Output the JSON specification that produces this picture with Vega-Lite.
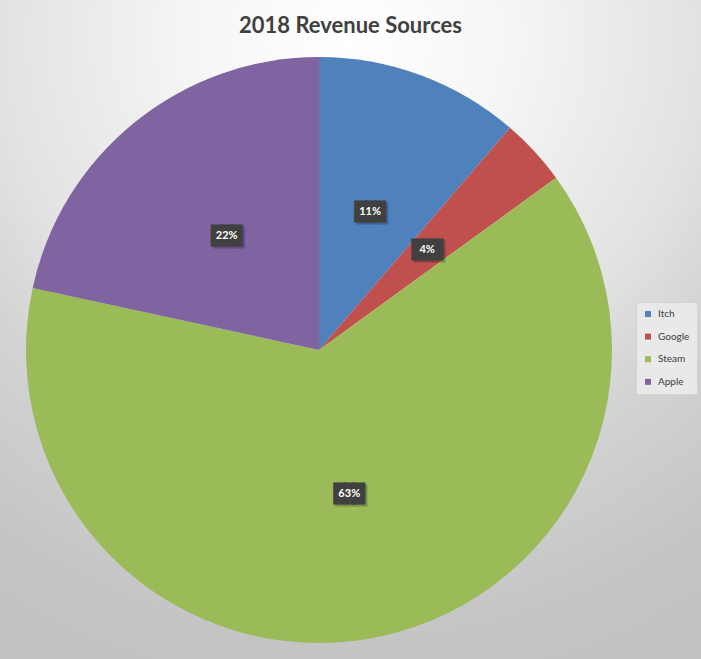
{
  "$schema": "https://vega.github.io/schema/vega-lite/v6.json",
  "width": 764,
  "height": 700,
  "autosize": {"type": "none"},
  "padding": {"left": -63, "top": 0, "right": 0, "bottom": -41},
  "background": "#d6d6d6",
  "title": {
    "text": "2018 Revenue Sources",
    "font": "Lato",
    "fontSize": 22,
    "fontWeight": "bold",
    "color": "#404040",
    "anchor": "middle",
    "frame": "group",
    "offset": -38,
    "dx": 31.5
  },
  "config": {
    "view": {"stroke": null},
    "legend": {
      "orient": "none",
      "legendX": 699,
      "legendY": 302,
      "fillColor": "#e9e9e9",
      "strokeColor": "#d2d2d2",
      "padding": 7,
      "symbolType": "square",
      "symbolSize": 36,
      "symbolStrokeWidth": 0,
      "labelFont": "Lato",
      "labelFontSize": 10,
      "labelColor": "#404040",
      "labelOffset": 5,
      "rowPadding": 12.6
    }
  },
  "datasets": {
    "revenue": [
      {"source": "Itch", "ord": 1, "share": 0.113},
      {"source": "Google", "ord": 2, "share": 0.037},
      {"source": "Steam", "ord": 3, "share": 0.634},
      {"source": "Apple", "ord": 4, "share": 0.216}
    ],
    "bg": [{"panel": "background"}]
  },
  "layer": [
    {
      "data": {"name": "bg"},
      "mark": {
        "type": "rect",
        "fill": {
          "gradient": "radial",
          "x1": 0.54, "y1": 0.09, "r1": 0,
          "x2": 0.54, "y2": 0.09, "r2": 1,
          "stops": [
            {"offset": 0, "color": "#ffffff"},
            {"offset": 0.2, "color": "#f6f6f6"},
            {"offset": 0.46, "color": "#e2e2e2"},
            {"offset": 0.58, "color": "#d4d4d4"},
            {"offset": 0.8, "color": "#c4c4c4"},
            {"offset": 1, "color": "#c0c0c0"}
          ]
        }
      },
      "encoding": {}
    },
    {
      "data": {"name": "revenue"},
      "layer": [
        {
          "mark": {"type": "arc", "outerRadius": 293},
          "encoding": {
            "theta": {"field": "share", "type": "quantitative", "stack": true},
            "order": {"field": "ord", "type": "quantitative"},
            "color": {
              "field": "source",
              "type": "nominal",
              "title": null,
              "scale": {
                "domain": ["Itch", "Google", "Steam", "Apple"],
                "range": ["#4F81BD", "#C0504D", "#9BBB59", "#8064A2"]
              }
            }
          }
        },
        {
          "mark": {"type": "text", "radius": 147, "text": "███", "font": "DejaVu Sans Mono", "fontSize": 16, "color": "#000000", "stroke": "#000000", "strokeWidth": 3, "strokeJoin": "miter", "opacity": 0.22, "dx": 2, "dy": 2, "baseline": "middle", "align": "center"},
          "encoding": {
            "theta": {"field": "share", "type": "quantitative", "stack": true},
            "order": {"field": "ord", "type": "quantitative"},
            "detail": {"field": "source", "type": "nominal"}
          }
        },
        {
          "mark": {"type": "text", "radius": 147, "text": "███", "font": "DejaVu Sans Mono", "fontSize": 16, "color": "#404040", "stroke": "#404040", "strokeWidth": 3, "strokeJoin": "miter", "baseline": "middle", "align": "center"},
          "encoding": {
            "theta": {"field": "share", "type": "quantitative", "stack": true},
            "order": {"field": "ord", "type": "quantitative"},
            "detail": {"field": "source", "type": "nominal"}
          }
        },
        {
          "mark": {"type": "text", "radius": 147, "font": "Lato", "fontSize": 11, "fontWeight": "bold", "color": "#ffffff", "baseline": "middle", "align": "center"},
          "encoding": {
            "theta": {"field": "share", "type": "quantitative", "stack": true},
            "order": {"field": "ord", "type": "quantitative"},
            "detail": {"field": "source", "type": "nominal"},
            "text": {"field": "share", "type": "quantitative", "format": ".0%"}
          }
        }
      ]
    }
  ]
}
